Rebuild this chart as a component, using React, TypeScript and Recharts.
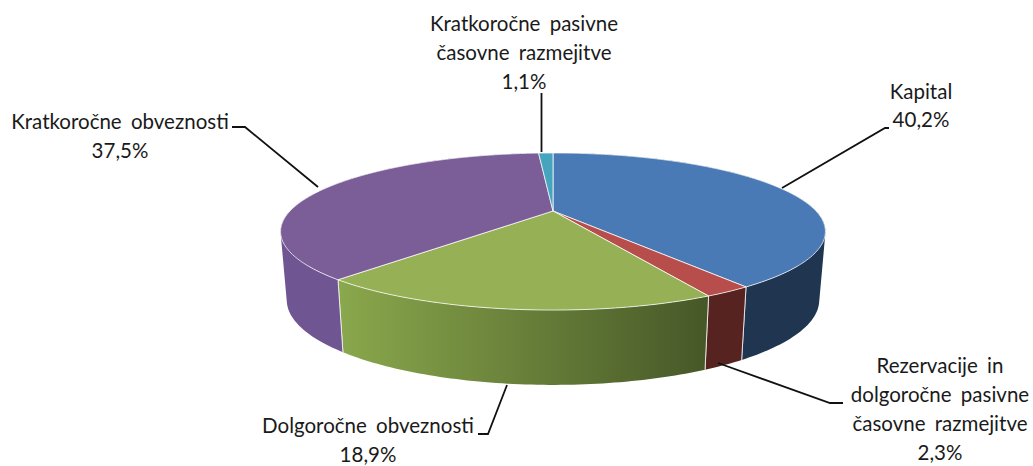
import React from 'react';
import { PieChart, Pie } from 'recharts';

const names = [
  'Kapital',
  'Rezervacije in dolgoročne pasivne časovne razmejitve',
  'Dolgoročne obveznosti',
  'Kratkoročne obveznosti',
  'Kratkoročne pasivne časovne razmejitve',
];
const values = [40.2, 2.3, 18.9, 37.5, 1.1];
const labelRows = [
  ['Kapital'],
  ['Rezervacije in', 'dolgoročne pasivne', 'časovne razmejitve'],
  ['Dolgoročne obveznosti'],
  ['Kratkoročne obveznosti'],
  ['Kratkoročne pasivne', 'časovne razmejitve'],
];

const topColors = ['#4a7ab5', '#b84e4c', '#96b056', '#7b5d97', '#45a5bf'];
const wallFrom = ['#1f3550', '#572320', '#8aa84c', '#6f5592', '#2f7f96'];
const wallTo = ['#1f3550', '#572320', '#475828', '#6f5592', '#2f7f96'];

// label anchor + baselines + leader line, by slice
const labelX = [921, 940, 368, 120, 524];
const labelY = [99, 373, 433, 129, 31];
const rowStep = [28, 29, 29, 29, 29];
const leaders = [
  '782,188 885,128 889,128',
  '718,363 830,403 843,403',
  '507,385 488,434 478,434',
  '318,187 245,127 232,127',
  '541.5,93 541.5,152',
];

// perspective of the tilted disc (top and bottom rim)
const K = 0.261;
const TOP_Y = 73.2;
const BOTTOM_R = 257 / 263;
const BOTTOM_Y0 = 67;
const BOTTOM_Y = 79;

type Pt = [number, number];

const rim = (p: any, angle: number, bottom: boolean): Pt => {
  const a = (angle * Math.PI) / 180;
  const u = Math.cos(a);
  const v = -Math.sin(a);
  const w = 1 - K * v;
  const r = bottom ? p.outerRadius * BOTTOM_R : p.outerRadius;
  const x = p.cx + (r * u) / w;
  const y = bottom ? p.cy + BOTTOM_Y0 + (BOTTOM_Y * v) / w : p.cy + (TOP_Y * v) / w;
  return [x, y];
};

const sweep = (p: any, bottom: boolean) => {
  const out: Pt[] = [];
  const n = Math.max(2, Math.ceil(Math.abs(p.startAngle - p.endAngle)));
  for (let i = 0; i <= n; i++) {
    out.push(rim(p, p.startAngle + ((p.endAngle - p.startAngle) * i) / n, bottom));
  }
  return out;
};

const fmt = (pts: Pt[]) => pts.map(([x, y]) => `${x.toFixed(2)},${y.toFixed(2)}`).join(' ');

// quads all wound the same way, so one nonzero path has no seams or holes
const quadPath = (q: Pt[]) => {
  let area = 0;
  q.forEach((a, i) => {
    const b = q[(i + 1) % q.length];
    area += a[0] * b[1] - b[0] * a[1];
  });
  const pts = area < 0 ? [...q].reverse() : q;
  return `M${pts.map(([x, y]) => `${x.toFixed(2)} ${y.toFixed(2)}`).join('L')}Z`;
};

const TopFace = (p: any) => {
  const i = names.indexOf(p.name);
  return (
    <polygon
      points={fmt([[p.cx, p.cy], ...sweep(p, false)])}
      fill={topColors[i]}
      stroke="#fff"
      strokeOpacity={0.75}
      strokeWidth={1}
    />
  );
};

const Wall = (p: any) => {
  const i = names.indexOf(p.name);
  const id = `wall-${i}`;
  const top = sweep(p, false);
  const bottom = sweep(p, true);
  const d = top
    .slice(1)
    .map((pt, s) => quadPath([top[s], pt, bottom[s + 1], bottom[s]]))
    .join('');
  const edge = { stroke: '#fff', strokeOpacity: 0.75, strokeWidth: 1, fill: 'none' };
  return (
    <g>
      <defs>
        <linearGradient id={id} gradientUnits="userSpaceOnUse" x1={338} y1={0} x2={706} y2={0}>
          <stop offset="0" stopColor={wallFrom[i]} />
          <stop offset="1" stopColor={wallTo[i]} />
        </linearGradient>
      </defs>
      <path d={d} fill={`url(#${id})`} fillRule="nonzero" />
      <polyline points={fmt([top[0], bottom[0]])} {...edge} />
      <polyline points={fmt([top[top.length - 1], bottom[bottom.length - 1]])} {...edge} />
    </g>
  );
};

const SliceLabel = (p: any) => {
  const i = names.indexOf(p.name);
  const rows = [...labelRows[i], `${p.value.toFixed(1).replace('.', ',')}%`];
  return (
    <g>
      <polyline points={leaders[i]} fill="none" stroke="#111" strokeWidth={1.8} />
      <text
        textAnchor="middle"
        fontFamily="Lato, sans-serif"
        fontSize={20.5}
        fill="#1a1a1a"
        wordSpacing={4}
      >
        {rows.map((row, r) => (
          <tspan key={r} x={labelX[i]} y={labelY[i] + r * rowStep[i]}>
            {row}
          </tspan>
        ))}
      </text>
    </g>
  );
};

const chartData = names.map((name, i) => ({ name, value: values[i] }));

export default function App() {
  return (
    <div style={{ position: 'absolute', left: 0, top: 0, width: 1033, height: 466, background: '#fff' }}>
      <PieChart width={1033} height={466} margin={{ top: 0, right: 0, bottom: 0, left: 0 }}>
        <Pie
          data={chartData}
          dataKey="value"
          nameKey="name"
          cx={553}
          cy={211}
          outerRadius={263}
          startAngle={90}
          endAngle={-270}
          shape={Wall}
          isAnimationActive={false}
        />
        <Pie
          data={chartData}
          dataKey="value"
          nameKey="name"
          cx={553}
          cy={211}
          outerRadius={263}
          startAngle={90}
          endAngle={-270}
          shape={TopFace}
          label={SliceLabel}
          labelLine={false}
          isAnimationActive={false}
        />
      </PieChart>
    </div>
  );
}
